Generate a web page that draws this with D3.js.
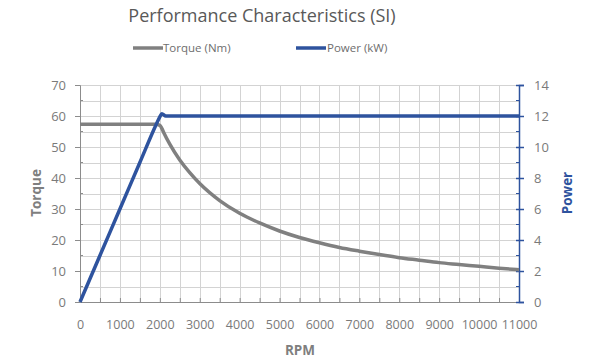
<!DOCTYPE html>
<html><head><meta charset="utf-8">
<script src="https://cdn.jsdelivr.net/npm/d3@7"></script>
<style>body{margin:0;background:#fff}svg{display:block}text{font-family:"Open Sans",sans-serif}</style>
</head><body><svg id="c" width="600" height="360"></svg>
<script>
const title = "Performance Characteristics (SI)";
const rpm = [0,500,1000,1500,1900,2000,2050,2100,2250,2500,2750,3000,3500,4000,4500,5000,5500,6000,6500,7000,7500,8000,8500,9000,9500,10000,10500,11000];
const torque = [57.3,57.3,57.3,57.3,57.3,57.0,56.0,54.6,50.9,45.8,41.7,38.2,32.7,28.6,25.5,22.9,20.8,19.1,17.6,16.4,15.3,14.3,13.5,12.7,12.1,11.5,10.9,10.4];
const powerRpm = [0,500,1000,1500,1900,2000,2050,2150,2500,3000,4000,5000,6000,7000,8000,9000,10000,11000];
const power = [0,3.0,6.0,9.0,11.4,11.95,12.15,12.0,12,12,12,12,12,12,12,12,12,12];
const xTicks = [0,1000,2000,3000,4000,5000,6000,7000,8000,9000,10000,11000];
const torqueTicks = [0,10,20,30,40,50,60,70];
const powerTicks = [0,2,4,6,8,10,12,14];

const svg = d3.select("#c");
const L=80,R=519,T=85,B=302;
const x = d3.scaleLinear().domain([0,11000]).range([L,R]);
const yT = d3.scaleLinear().domain([0,70]).range([B,T]);
const yP = d3.scaleLinear().domain([0,14]).range([B,T]);
const grid="#d3d3d3", axisGray="#8c8c8c", blue="#2e539e", txt="#7a7a7a";
const px = v => Math.round(v)+0.5;

// grid
const g = svg.append("g");
g.selectAll(".vg").data(d3.range(500,11001,500)).join("line")
 .attr("x1",d=>px(x(d))).attr("x2",d=>px(x(d))).attr("y1",T).attr("y2",B).attr("stroke",grid).attr("stroke-width",1);
g.selectAll(".hg").data(d3.range(5,71,5)).join("line")
 .attr("x1",L).attr("x2",R).attr("y1",d=>px(yT(d))).attr("y2",d=>px(yT(d))).attr("stroke",grid).attr("stroke-width",1);

// axes
const ax = d3.axisBottom(x).tickValues(d3.range(0,11001,500)).tickSize(-4).tickFormat(d=>xTicks.includes(d)?d:"");
const gx = svg.append("g").attr("transform",`translate(0,${B})`).call(ax);
gx.select(".domain").attr("stroke",axisGray);
gx.selectAll(".tick line").attr("stroke",axisGray);
gx.selectAll("text").attr("fill",txt).attr("font-size",12.5).attr("dy","1.95em");

const ayL = d3.axisLeft(yT).tickValues(torqueTicks).tickSize(5).tickPadding(9);
const gl = svg.append("g").attr("transform",`translate(${L},0)`).call(ayL);
gl.select(".domain").attr("stroke",axisGray);
gl.selectAll(".tick line").attr("stroke",axisGray);
gl.selectAll("text").attr("fill",txt).attr("font-size",13);
svg.append("g").selectAll("line").data(d3.range(5,70,10)).join("line")
 .attr("x1",L).attr("x2",L+3).attr("y1",d=>yT(d)).attr("y2",d=>yT(d)).attr("stroke",axisGray);

const ayR = d3.axisRight(yP).tickValues(powerTicks).tickSize(5).tickPadding(10);
const gr = svg.append("g").attr("transform",`translate(${R},0)`).call(ayR);
gr.select(".domain").attr("stroke",blue).attr("stroke-width",1.5);
gr.selectAll(".tick line").attr("stroke",blue).attr("stroke-width",1.5).attr("x1",-3);
gr.selectAll("text").attr("fill",txt).attr("font-size",13);
svg.append("g").selectAll("line").data(d3.range(1,14,2)).join("line")
 .attr("x1",R-3).attr("x2",R).attr("y1",d=>yP(d)).attr("y2",d=>yP(d)).attr("stroke",blue);

// lines
svg.append("path").datum(rpm.map((r,i)=>[r,torque[i]]))
 .attr("d",d3.line().x(d=>x(d[0])).y(d=>yT(d[1])).curve(d3.curveMonotoneX))
 .attr("fill","none").attr("stroke","#808080").attr("stroke-width",3.5);
svg.append("path").datum(powerRpm.map((r,i)=>[r,power[i]]))
 .attr("d",d3.line().x(d=>x(d[0])).y(d=>yP(d[1])).curve(d3.curveMonotoneX))
 .attr("fill","none").attr("stroke",blue).attr("stroke-width",3.5);

// titles
svg.append("text").attr("x",262).attr("y",22).attr("text-anchor","middle").attr("font-size",18).attr("fill","#595959").text(title);
svg.append("line").attr("x1",133).attr("x2",163).attr("y1",48).attr("y2",48).attr("stroke","#808080").attr("stroke-width",3.5);
svg.append("text").attr("x",163).attr("y",52).attr("font-size",11.5).attr("fill","#6e6e6e").text("Torque (Nm)");
svg.append("line").attr("x1",296).attr("x2",326).attr("y1",48).attr("y2",48).attr("stroke",blue).attr("stroke-width",3.5);
svg.append("text").attr("x",327).attr("y",52).attr("font-size",11.5).attr("fill","#6e6e6e").text("Power (kW)");

svg.append("text").attr("transform",`translate(41,193) rotate(-90)`).attr("text-anchor","middle")
 .attr("font-size",13.5).attr("font-weight","bold").attr("fill","#7f7f7f").text("Torque");
svg.append("text").attr("transform",`translate(572,193) rotate(-90)`).attr("text-anchor","middle")
 .attr("font-size",13.5).attr("font-weight","bold").attr("fill",blue).text("Power");
svg.append("text").attr("x",300).attr("y",355).attr("text-anchor","middle")
 .attr("font-size",13.5).attr("font-weight","bold").attr("fill","#7f7f7f").text("RPM");
</script></body></html>
